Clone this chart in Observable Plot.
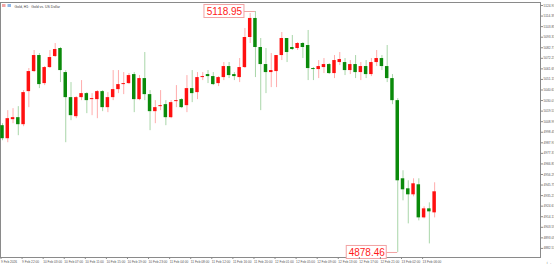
<!DOCTYPE html>
<html><head><meta charset="utf-8">
<script src="https://cdn.jsdelivr.net/npm/d3@7"></script>
<script src="https://cdn.jsdelivr.net/npm/@observablehq/plot@0.6"></script>
<style>html,body{margin:0;padding:0;background:#fff;} svg{display:block}</style>
</head><body><div id="chart"></div>
<script>
const opens  = [5005,4992,5011,5013,5006,5039,5059,5075,5047,5063,5074,5082,5058,5033,5014,5033,5037,5031,5031,5039,5023,5033,5041,5046,5047,5056,5031,5052,5036,5019,5024,5026,5013,5029,5031,5025,5042,5038,5053,5056,5054,5047,5053,5064,5056,5053,5063,5093,5112,5083,5066,5058,5059,5075,5092,5083,5082,5087,5085,5062,5061,5063,5066,5057,5068,5068,5060,5066,5058,5064,5056,5068,5072,5064,5052,5030,4952,4942,4936,4946,4913,4922,4918];
const highs  = [5007,5020,5022,5024,5040,5062,5080,5077,5064,5080,5087,5083,5060,5048,5034,5050,5038,5037,5040,5040,5038,5060,5060,5058,5057,5058,5055,5078,5040,5030,5040,5030,5030,5045,5032,5055,5060,5058,5058,5060,5058,5054,5068,5068,5058,5072,5102,5117,5118.95,5092,5082,5077,5075,5098,5092,5095,5088,5088,5100,5063,5070,5072,5067,5075,5078,5072,5070,5075,5068,5070,5072,5080,5075,5085,5056,5032,4960,4950,4952,4952,4924,4928,4948];
const lows   = [4990,4988,5007,4995,5004,5023,5058,5042,5045,5062,5073,5048,4988,5010,5012,5030,5017,5015,5012,5019,5018,5030,5037,5036,5046,5018,5030,5030,5000,5007,5020,5005,5012,5023,5022,5018,5028,5031,5050,5047,5045,5044,5050,5052,5050,5048,5062,5087,5053,5020,5037,5043,5043,5070,5068,5080,5080,5072,5050,5050,5052,5057,5056,5052,5065,5055,5056,5052,5050,5052,5054,5064,5060,5048,5026,4878.46,4930,4907,4934,4910,4912,4887,4913];
const closes = [4992,5012,5013,5006,5038,5059,5075,5046,5063,5073,5081,5060,5033,5015,5033,5037,5030,5032,5039,5023,5033,5041,5046,5047,5055,5031,5052,5036,5019,5023,5025,5013,5028,5030,5023,5042,5037,5053,5054,5054,5046,5053,5064,5055,5054,5063,5093,5112,5083,5066,5058,5060,5075,5092,5078,5081,5087,5083,5062,5061,5064,5066,5057,5070,5071,5060,5066,5058,5064,5056,5068,5072,5064,5052,5030,4950,4941,4936,4947,4913,4922,4919,4939];

const xTickLabels = ["9 Feb 2026","9 Feb 22:00","10 Feb 03:00","10 Feb 07:00","10 Feb 11:00","10 Feb 15:00","10 Feb 19:00","10 Feb 23:00","11 Feb 04:00","11 Feb 08:00","11 Feb 12:00","11 Feb 16:00","11 Feb 20:00","12 Feb 01:00","12 Feb 05:00","12 Feb 09:00","12 Feb 13:00","12 Feb 17:00","12 Feb 21:00","13 Feb 02:00","13 Feb 06:00"];
const xTickBars = [0,4,8,12,16,20,24,28,32,36,40,44,48,52,56,60,64,68,72,76,80];
const yTicks = [5124.93,5114.39,5103.85,5093.31,5082.77,5072.23,5061.69,5051.15,5040.61,5030.07,5019.53,5008.99,4998.45,4987.91,4977.37,4966.83,4956.29,4945.75,4935.21,4924.67,4914.13,4903.59,4893.05,4882.51];
const title = ["Gold, H1:  Gold vs. US Dollar"];
const markerBars = [48, 75];
const markerPrices = [5118.95, 4878.46];
const markerLabels = ["5118.95", "4878.46"];

const bars = opens.map((o, i) => ({i, open: o, high: highs[i], low: lows[i], close: closes[i], up: closes[i] >= o}));
const markers = markerBars.map((b, k) => ({i: b, price: markerPrices[k], label: markerLabels[k]}));
const UP = "#ff1010", DOWN = "#0a8a0a";

const plot = Plot.plot({
  width: 554, height: 266,
  marginLeft: 0, marginRight: 14, marginTop: 2, marginBottom: 9,
  x: {domain: [-0.38, 102.09], axis: null},
  y: {domain: [4873.44, 5127.93], axis: null},
  style: {background: "#fff", fontFamily: "'Liberation Sans', Arial, sans-serif"},
  marks: [
    Plot.frame({stroke: "#8a8a8a"}),
    Plot.ruleX(bars, {x: "i", y1: "low", y2: "high", stroke: d => d.up ? UP : DOWN, strokeOpacity: 0.35, strokeWidth: 1}),
    Plot.rect(bars, {x1: d => d.i - 0.33, x2: d => d.i + 0.33, y1: "open", y2: "close", fill: d => d.up ? UP : DOWN}),
    Plot.ruleY(markers, {y: "price", x1: "i", x2: "i", insetLeft: -11, stroke: "#f2a3a3", strokeWidth: 1}),
    Plot.rect(markers, {x1: "i", x2: "i", y1: "price", y2: "price", insetLeft: -51, insetRight: 11, insetTop: -6.5, insetBottom: -6.5, fill: "#fff", stroke: "#f2a3a3", strokeWidth: 1}),
    Plot.text(markers, {x: "i", y: "price", text: "label", dx: -31, fill: "#ff1a1a", fontSize: 10, textAnchor: "middle"}),
    Plot.axisY(yTicks, {anchor: "right", tickSize: 2, tickPadding: 1, fontSize: 3.2, fill: "#555", stroke: "#8a8a8a", tickFormat: d => d.toFixed(2)}),
    Plot.axisX(xTickBars, {anchor: "bottom", tickSize: 2, tickPadding: 1, fontSize: 3.2, fill: "#555", stroke: "#8a8a8a", textAnchor: "start", dx: -1.5, tickFormat: d => xTickLabels[xTickBars.indexOf(d)]}),
    Plot.text(title, {frameAnchor: "top-left", text: d => d, dx: 14, dy: 2.5, fontSize: 3.5, fill: "#444", textAnchor: "start", lineAnchor: "top"})
  ]
});
document.getElementById("chart").appendChild(plot);
const svg = d3.select(plot);
svg.append("rect").attr("x", 2).attr("y", 4).attr("width", 3.5).attr("height", 3).attr("fill", "#f4a6a6");
svg.append("rect").attr("x", 7.5).attr("y", 4).attr("width", 3.5).attr("height", 3).attr("fill", "#8fb8e8");
</script>
</body></html>
